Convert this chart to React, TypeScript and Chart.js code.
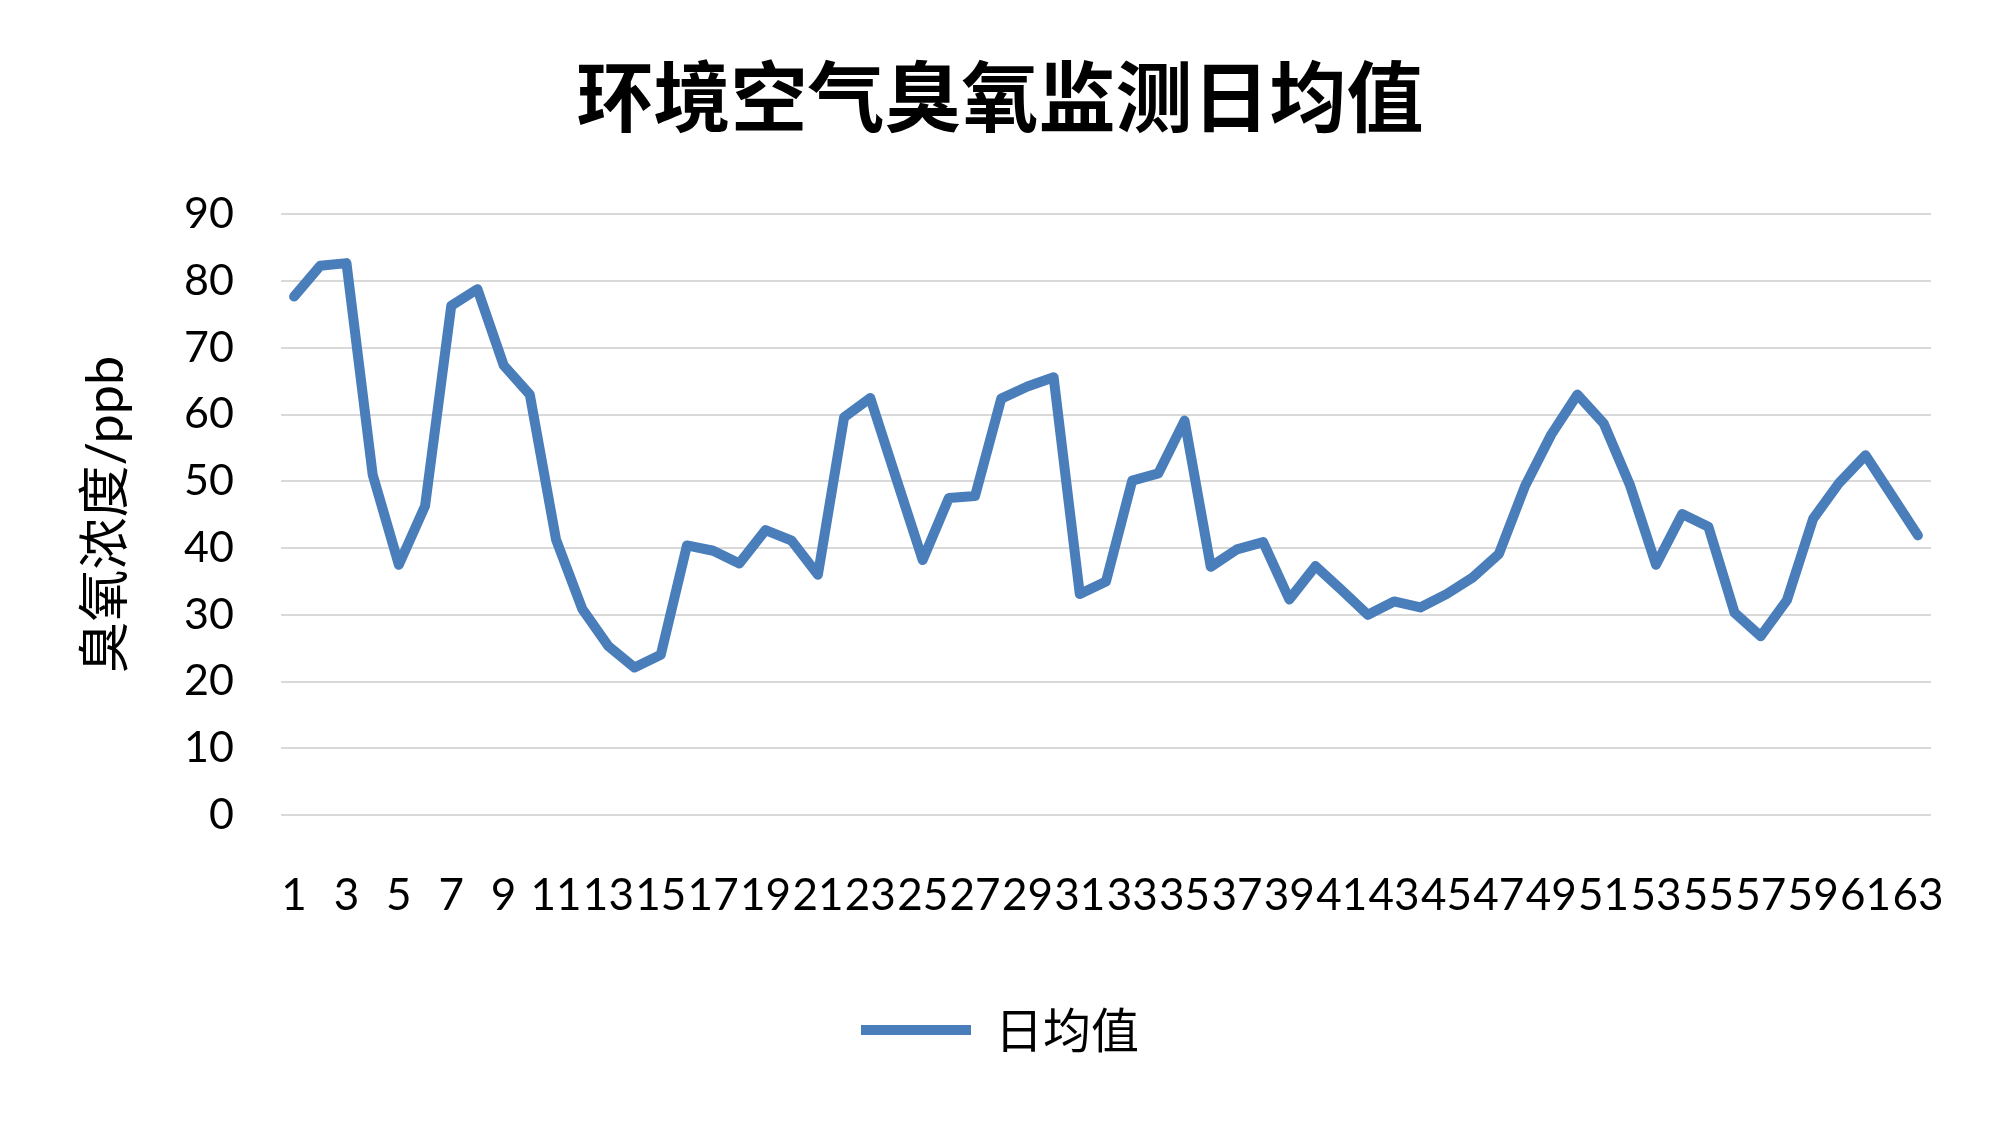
import React, { useEffect, useRef } from "react";
import { Chart, registerables } from "chart.js";

Chart.register(...registerables);

const chartTitle = "环境空气臭氧监测日均值";
const yAxisTitle = "臭氧浓度/ppb";
const seriesName = "日均值";

const days = [
  "1", "2", "3", "4", "5", "6", "7", "8", "9", "10",
  "11", "12", "13", "14", "15", "16", "17", "18", "19", "20",
  "21", "22", "23", "24", "25", "26", "27", "28", "29", "30",
  "31", "32", "33", "34", "35", "36", "37", "38", "39", "40",
  "41", "42", "43", "44", "45", "46", "47", "48", "49", "50",
  "51", "52", "53", "54", "55", "56", "57", "58", "59", "60",
  "61", "62", "63",
];

const dailyMean = [
  77.7, 82.3, 82.7, 51.0, 37.5, 46.3, 76.3, 78.8, 67.4, 63.0,
  41.3, 30.9, 25.3, 22.1, 24.0, 40.4, 39.6, 37.7, 42.7, 41.1,
  36.0, 59.6, 62.5, 50.3, 38.2, 47.5, 47.8, 62.4, 64.2, 65.6,
  33.1, 35.0, 50.1, 51.2, 59.1, 37.2, 39.8, 40.9, 32.3, 37.3,
  33.7, 30.0, 32.0, 31.1, 33.1, 35.6, 39.1, 49.3, 57.0, 63.0,
  58.7, 49.5, 37.5, 45.1, 43.2, 30.3, 26.8, 32.2, 44.4, 49.8,
  53.9, 47.9, 41.9,
];

const yMin = 0;
const yMax = 90;
const yStep = 10;

export default function App() {
  const ref = useRef<HTMLCanvasElement>(null);

  useEffect(() => {
    document.body.style.margin = "0";
    const canvas = ref.current;
    if (!canvas) return;
    const chart = new Chart(canvas, {
      type: "line",
      data: {
        labels: days,
        datasets: [
          {
            label: seriesName,
            data: dailyMean,
            borderColor: "#4A7EBB",
            backgroundColor: "#4A7EBB",
            borderWidth: 10,
            pointRadius: 0,
            pointHoverRadius: 0,
            tension: 0,
            borderCapStyle: "round",
            borderJoinStyle: "round",
            fill: false,
          },
        ],
      },
      options: {
        responsive: false,
        animation: false,
        devicePixelRatio: 1,
        layout: { padding: { left: 0, right: 0, top: 0, bottom: 58 } },
        plugins: {
          title: {
            display: true,
            text: chartTitle,
            color: "#000",
            font: { family: "'Noto Sans CJK SC'", size: 77, weight: "bold", lineHeight: 1.2 },
            padding: { top: 51, bottom: 71 },
          },
          legend: {
            display: true,
            position: "bottom",
            labels: {
              usePointStyle: true,
              pointStyle: "line",
              pointStyleWidth: 110,
              color: "#000",
              padding: 10,
              font: { family: "'Noto Sans CJK SC'", size: 48 },
            },
          },
          tooltip: { enabled: false },
        },
        scales: {
          x: {
            type: "category",
            offset: true,
            grid: { display: false, drawTicks: false },
            border: { display: false },
            ticks: {
              autoSkip: false,
              maxRotation: 0,
              minRotation: 0,
              padding: 54,
              color: "#000",
              font: { family: "Lato", size: 44 },
              callback: (_v: any, idx: number) => (idx % 2 === 0 ? days[idx] : ""),
            },
            afterFit: (scale: any) => {
              scale.height = 181;
            },
          },
          y: {
            min: yMin,
            max: yMax,
            grid: { color: "#D9D9D9", lineWidth: 2, drawTicks: false },
            border: { display: false },
            ticks: {
              stepSize: yStep,
              padding: 47,
              color: "#000",
              font: { family: "Lato", size: 43 },
            },
            title: {
              display: true,
              text: yAxisTitle,
              color: "#000",
              font: { family: "Lato, 'Noto Sans CJK SC'", size: 52, lineHeight: 1.2 },
              padding: { top: 75, bottom: 0 },
            },
            afterFit: (scale: any) => {
              scale.width = 281;
            },
          },
          yRight: {
            type: "linear",
            position: "right",
            display: true,
            min: yMin,
            max: yMax,
            grid: { display: false, drawTicks: false },
            border: { display: false },
            ticks: { display: false },
            afterFit: (scale: any) => {
              scale.width = 69;
            },
          },
        },
      },
    });
    return () => chart.destroy();
  }, []);

  return (
    <div style={{ width: 2000, height: 1122, position: "relative", background: "#fff" }}>
      <canvas ref={ref} width={2000} height={1122} style={{ display: "block" }} />
    </div>
  );
}
